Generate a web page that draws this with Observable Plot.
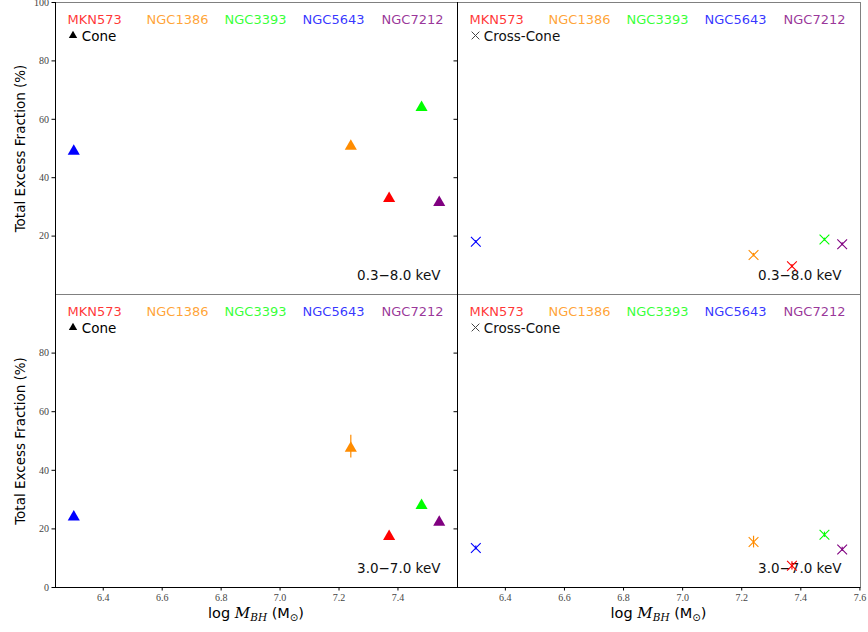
<!DOCTYPE html>
<html>
<head>
<meta charset="utf-8">
<script src="https://cdn.jsdelivr.net/npm/d3@7"></script>
<script src="https://cdn.jsdelivr.net/npm/@observablehq/plot@0.6"></script>
<style>
  html, body { margin: 0; padding: 0; background: white; }
  #chart { position: relative; width: 868px; height: 632px; overflow: hidden; }
  #chart svg { position: absolute; }
</style>
</head>
<body>
<div id="chart"></div>
<script>
// ---- data ----
const galaxies = ["MKN573", "NGC1386", "NGC3393", "NGC5643", "NGC7212"];
const galaxyColors = ["#ff0000", "#ff8c00", "#00ff00", "#0000ff", "#800080"];
const logMBH = [7.37, 7.24, 7.48, 6.30, 7.54];
const cone_03_80 = [33.5, 51.4, 64.6, 49.7, 32.1];
const cone_03_80_err = [0.6, 0.8, 0.8, 0.6, 0.6];
const crossCone_03_80 = [9.7, 13.5, 18.8, 18.1, 17.2];
const crossCone_03_80_err = [0.6, 0.6, 0.5, 0.4, 0.5];
const cone_30_70 = [18.0, 48.1, 28.6, 24.7, 22.9];
const cone_30_70_err = [0.8, 3.9, 0.8, 0.7, 0.7];
const crossCone_30_70 = [7.4, 15.5, 18.0, 13.5, 13.0];
const crossCone_30_70_err = [1.4, 2.0, 0.9, 0.7, 0.7];
const yTicksTop = [20, 40, 60, 80, 100];
const yTicksBottom = [0, 20, 40, 60, 80];
const yTicksAll = [0, 20, 40, 60, 80, 100];
const xTicksLeft = [6.4, 6.6, 6.8, 7.0, 7.2, 7.4];
const xTicksRight = [6.4, 6.6, 6.8, 7.0, 7.2, 7.4, 7.6];
const energyTop = "0.3\u22128.0 keV";
const energyBottom = "3.0\u22127.0 keV";
const yLabel = "Total Excess Fraction (%)";

// ---- layout ----
const xDomain = [6.238, 7.602];
const yDomain = [0, 100];
const sans = "DejaVu Sans";
const serif = "Liberation Serif";
const legendDx = [12, 91, 169, 247, 326];
const idx = d3.range(galaxies.length);

function panel({values, errs, kind, row, col, energy}) {
  const isTop = row === 0, isLeft = col === 0;
  const geom = {
    left: isLeft ? 0 : 440,
    top: isTop ? 0 : 292,
    width: isLeft ? 460 : 428,
    height: isTop ? 296 : 340,
    marginLeft: isLeft ? 55 : 17,
    marginRight: isLeft ? 3 : 8,
    marginTop: 2,
    marginBottom: isTop ? 2 : 45
  };
  const marks = [];
  marks.push(Plot.frame({stroke: "#808080", strokeWidth: 1}));
  marks.push(Plot.ruleX([xDomain[0]], {stroke: "black", strokeWidth: 1}));
  if (!isTop) marks.push(Plot.ruleY([0], {stroke: "black", strokeWidth: 1}));

  // y axis
  if (isLeft) {
    marks.push(Plot.axisY({
      ticks: isTop ? yTicksTop : yTicksBottom,
      tickSize: 3.5, tickPadding: 3, label: null,
      fontFamily: serif, fontSize: 10, fill: "#444", stroke: "black"
    }));
    marks.push(Plot.text([yLabel], {
      text: d => d, frameAnchor: "left", rotate: -90, dx: -35,
      textAnchor: "middle", lineAnchor: "middle",
      fontFamily: sans, fontSize: 13.5, fill: "black"
    }));
  } else {
    marks.push(Plot.axisY({
      ticks: yTicksAll.filter(t => t > 0 && t < 100), tickSize: 3.5, label: null,
      tickFormat: () => "", stroke: "black"
    }));
  }
  // x axis
  if (!isTop) {
    marks.push(Plot.axisX({
      ticks: isLeft ? xTicksLeft : xTicksRight,
      tickFormat: d3.format(".1f"),
      tickSize: 3.5, tickPadding: 3, label: null,
      fontFamily: serif, fontSize: 10, fill: "#444", stroke: "black"
    }));
  }

  // legend text row
  galaxies.forEach((g, i) => {
    marks.push(Plot.text([g], {
      text: d => d, frameAnchor: "top-left", dx: legendDx[i], dy: 21,
      textAnchor: "start", lineAnchor: "bottom",
      fill: galaxyColors[i], fillOpacity: 0.8,
      fontFamily: sans, fontSize: 13
    }));
  });
  // marker legend
  if (kind === "cone") {
    marks.push(Plot.dot([0], {frameAnchor: "top-left", dx: 17.5, dy: 33, symbol: "triangle", r: 3.1, fill: "black", stroke: "none"}));
    marks.push(Plot.text(["Cone"], {text: d => d, frameAnchor: "top-left", dx: 26.3, dy: 38.5, textAnchor: "start", lineAnchor: "bottom", fontFamily: sans, fontSize: 13.5, fill: "black"}));
  } else {
    marks.push(Plot.dot([0], {frameAnchor: "top-left", dx: 18, dy: 33, symbol: "times", r: 3.6, stroke: "#444", strokeWidth: 1, fill: "none"}));
    marks.push(Plot.text(["Cross-Cone"], {text: d => d, frameAnchor: "top-left", dx: 26.3, dy: 38.5, textAnchor: "start", lineAnchor: "bottom", fontFamily: sans, fontSize: 13.5, fill: "#111"}));
  }
  // energy label
  marks.push(Plot.text([energy], {
    text: d => d, frameAnchor: "bottom-right", dx: isLeft ? -17 : -19, dy: -15,
    textAnchor: "end", lineAnchor: "bottom",
    fontFamily: sans, fontSize: 13.5, fill: "#111"
  }));

  // error bars
  marks.push(Plot.ruleX(idx, {
    x: i => logMBH[i], y1: i => values[i] - errs[i], y2: i => values[i] + errs[i],
    stroke: i => galaxyColors[i], strokeWidth: 1.2
  }));
  // data points
  if (kind === "cone") {
    marks.push(Plot.dot(idx, {
      x: i => logMBH[i], y: i => values[i], symbol: "triangle", r: 4.5, dy: 1.75,
      fill: i => galaxyColors[i], stroke: "none"
    }));
  } else {
    marks.push(Plot.dot(idx, {
      x: i => logMBH[i], y: i => values[i], symbol: "times", r: 4.5,
      stroke: i => galaxyColors[i], strokeWidth: 1.1, fill: "none"
    }));
  }

  const svg = Plot.plot({
    width: geom.width, height: geom.height,
    marginLeft: geom.marginLeft, marginRight: geom.marginRight,
    marginTop: geom.marginTop, marginBottom: geom.marginBottom,
    x: {domain: xDomain, axis: isTop ? null : undefined},
    y: {domain: yDomain},
    color: {type: "identity"},
    style: {background: "transparent", fontFamily: sans, overflow: "hidden"},
    marks
  });
  svg.style.left = geom.left + "px";
  svg.style.top = geom.top + "px";

  if (!isTop) {
    const cx = geom.marginLeft + (geom.width - geom.marginLeft - geom.marginRight) / 2;
    const t = d3.select(svg).append("text")
      .attr("x", cx).attr("y", geom.height - 14)
      .attr("text-anchor", "middle")
      .attr("font-family", sans).attr("font-size", 14.5).attr("fill", "black");
    t.append("tspan").text("log ");
    t.append("tspan").attr("font-family", "DejaVu Serif").attr("font-style", "italic").attr("font-size", 15).text("M");
    t.append("tspan").attr("font-family", "DejaVu Serif").attr("font-style", "italic").attr("font-size", 10.5).attr("dy", 3).text("BH");
    t.append("tspan").attr("dy", -3).text(" (M");
    t.append("tspan").attr("font-size", 10).attr("dy", 3).text("\u2299");
    t.append("tspan").attr("dy", -3).text(")");
  }
  return svg;
}

const chart = document.getElementById("chart");
chart.appendChild(panel({values: cone_03_80, errs: cone_03_80_err, kind: "cone", row: 0, col: 0, energy: energyTop}));
chart.appendChild(panel({values: crossCone_03_80, errs: crossCone_03_80_err, kind: "cross", row: 0, col: 1, energy: energyTop}));
chart.appendChild(panel({values: cone_30_70, errs: cone_30_70_err, kind: "cone", row: 1, col: 0, energy: energyBottom}));
chart.appendChild(panel({values: crossCone_30_70, errs: crossCone_30_70_err, kind: "cross", row: 1, col: 1, energy: energyBottom}));
</script>
</body>
</html>
